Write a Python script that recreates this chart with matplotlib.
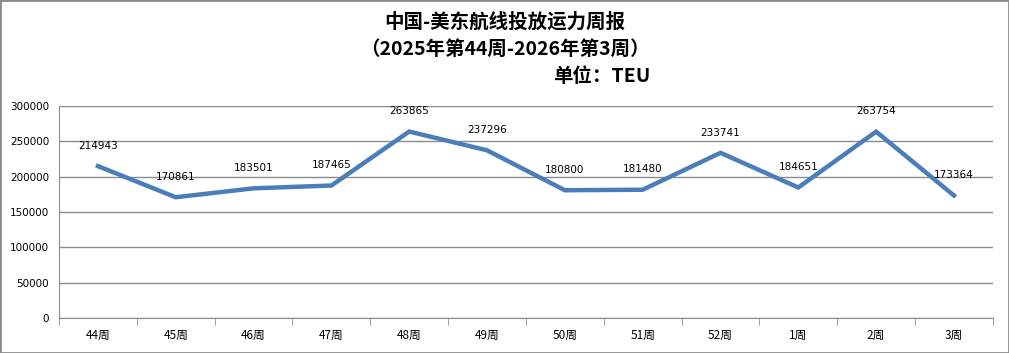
import matplotlib
matplotlib.use('Agg')
import matplotlib.pyplot as plt
from matplotlib.patches import Rectangle

plt.rcParams['font.family'] = ['Noto Sans CJK SC', 'DejaVu Sans']

# weekly capacity, China - US East Coast
weeks = ['44周', '45周', '46周', '47周', '48周', '49周', '50周', '51周',
         '52周', '1周', '2周', '3周']
teu = [214943, 170861, 183501, 187465, 263865, 237296, 180800, 181480,
       233741, 184651, 263754, 173364]
yticks = [0, 50000, 100000, 150000, 200000, 250000, 300000]

line_color = '#4a7ebb'
grid_color = '#8c8c8c'

fig = plt.figure(figsize=(10.09, 3.53), dpi=100)
ax = fig.add_axes([0.0585, 0.0992, 0.9255, 0.6005])

x = list(range(len(weeks)))
ax.plot(x, teu, color=line_color, linewidth=3.2, solid_joinstyle='miter')

for xi, v in zip(x, teu):
    ax.annotate(str(v), (xi, v), xytext=(0, 11), textcoords='offset points',
                ha='center', va='bottom', fontsize=7.5, family='DejaVu Sans')

ax.set_xlim(-0.5, len(weeks) - 0.5)
ax.set_ylim(0, 300000)
ax.set_yticks(yticks)
ax.set_yticklabels([str(t) for t in yticks], fontsize=7.5, family='DejaVu Sans')
ax.set_xticks(x)
ax.set_xticklabels(weeks, fontsize=8.5)
ax.set_xticks([i - 0.5 for i in range(len(weeks) + 1)], minor=True)
ax.tick_params(axis='x', which='major', length=0, pad=8)
ax.tick_params(axis='x', which='minor', length=5, color=grid_color, direction='out')
ax.tick_params(axis='y', length=0, pad=7)
ax.grid(axis='y', color=grid_color, linewidth=1)
ax.set_axisbelow(True)
for s in ['top', 'right']:
    ax.spines[s].set_visible(False)
ax.spines['left'].set_color(grid_color)
ax.spines['bottom'].set_color(grid_color)

fig.text(0.5, 0.937, '中国-美东航线投放运力周报', ha='center', va='center',
         fontsize=14, fontweight='bold')
fig.text(0.5, 0.86, '（2025年第44周-2026年第3周）', ha='center', va='center',
         fontsize=14, fontweight='bold')
fig.text(0.548, 0.782, '单位：TEU', ha='left', va='center',
         fontsize=14, fontweight='bold')

fig.patches.append(Rectangle((0, 0), 1, 1, transform=fig.transFigure,
                             fill=False, edgecolor='#8c8c8c', linewidth=2))

fig.savefig('out.png', dpi=100)
